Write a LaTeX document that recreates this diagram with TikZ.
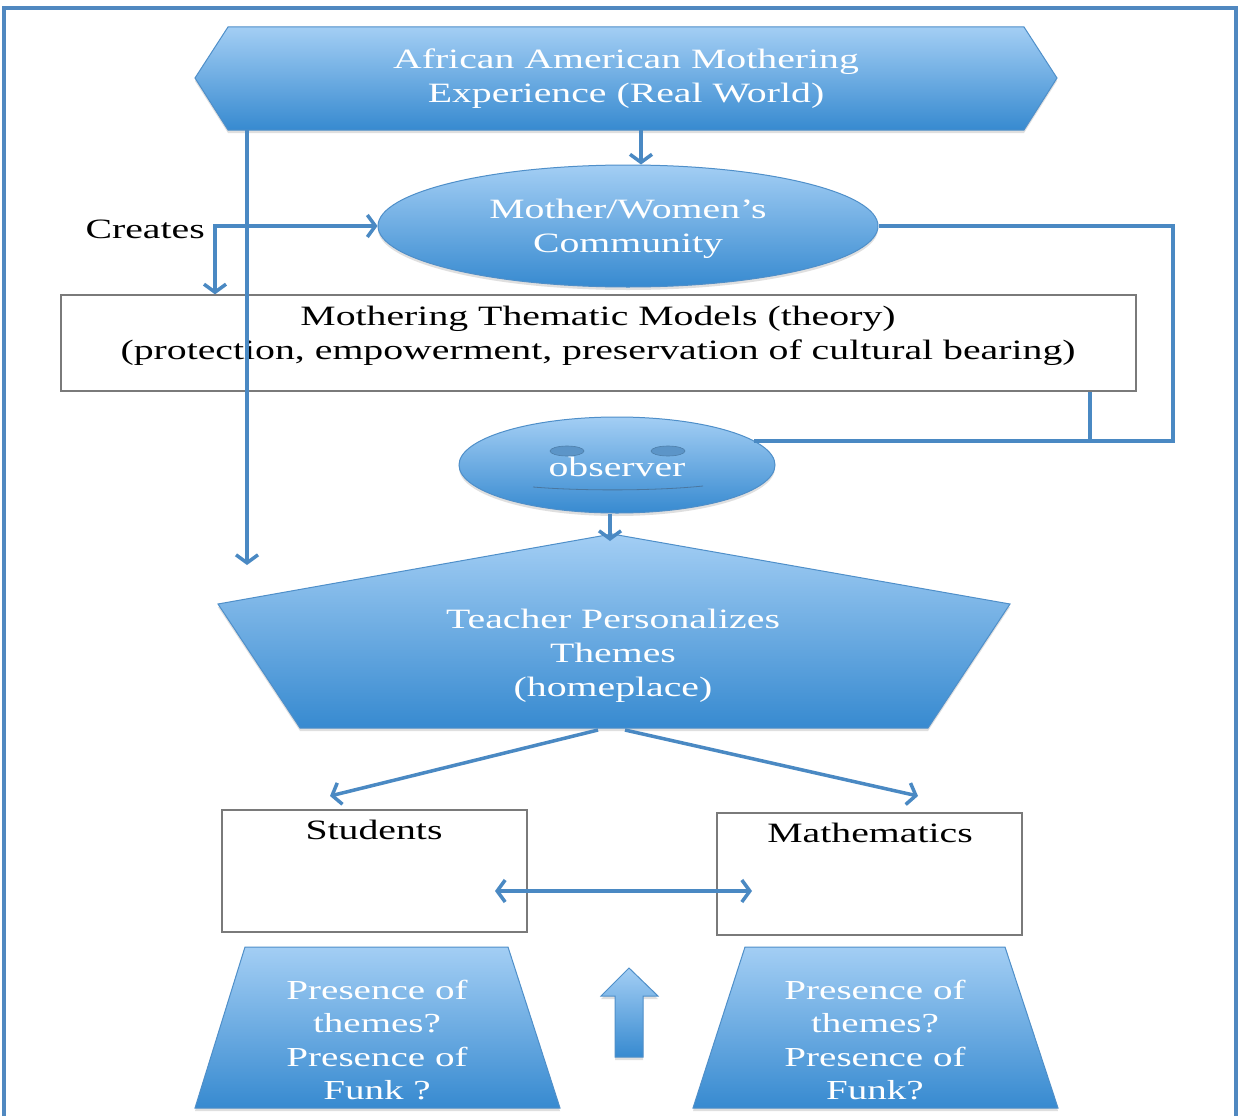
\documentclass[tikz,border=0pt]{standalone}
\usepackage{fontspec}
\setmainfont{Liberation Serif}[FakeStretch=1.42]
\usetikzlibrary{arrows.meta,shapes.geometric,calc,shadows}

\definecolor{lineblue}{HTML}{4A89C3}
\definecolor{frameblue}{HTML}{5088C0}
\definecolor{shadetop}{HTML}{A3CEF4}
\definecolor{shadebot}{HTML}{378AD0}
\definecolor{edgeblue}{HTML}{4F8FC9}
\definecolor{eyeblue}{HTML}{5C95C8}
\definecolor{boxgray}{HTML}{7A7A7A}

\begin{document}
\begin{tikzpicture}[x=1pt,y=-1pt,
  conn/.style={draw=lineblue, line width=3.5pt},
  tipend/.style={-{Straight Barb[length=8pt,width=22pt]}},
  tipboth/.style={{Straight Barb[length=8pt,width=22pt]}-{Straight Barb[length=8pt,width=22pt]}},
  blueshape/.style={draw=edgeblue, line width=1pt, top color=shadetop, bottom color=shadebot,
    drop shadow={opacity=0.25, shadow xshift=0pt, shadow yshift=-3pt}},
  whitetxt/.style={text=white, align=center, inner sep=0pt, font=\fontsize{28}{34}\selectfont},
  lowtxt/.style={text=white, align=center, inner sep=0pt, font=\fontsize{27.5}{33.5}\selectfont},
  blacktxt/.style={text=black, align=center, inner sep=0pt, font=\fontsize{28}{34}\selectfont},
  plainbox/.style={draw=boxgray, line width=1.3pt, fill=white, inner sep=0pt}]

\useasboundingbox (0,0) rectangle (1239,1116);
\fill[white] (0,0) rectangle (1239,1116);

% outer frame, open at the bottom
\draw[frameblue, line width=4pt] (4,1116) -- (4,8) -- (1236,8) -- (1236,1116);

% ---- top banner: real-world experience ----
\path[blueshape] (195,78) -- (228,27) -- (1024,27) -- (1057,78) -- (1024,130) -- (228,130) -- cycle;
\node[whitetxt, minimum width=862pt, minimum height=103pt] (exp) at (626,78.5)
  {African American Mothering\\Experience (Real World)};

% ---- community ellipse ----
\node[ellipse, blueshape, minimum width=500pt, minimum height=122pt, inner sep=0pt] (comm) at (628,226) {};
\node[whitetxt] (commtxt) at (628,229) {Mother/Women’s\\Community};

% ---- thematic models box ----
\node[plainbox, minimum width=1075pt, minimum height=96pt] (themes) at (598.5,343) {};
\node[blacktxt] (themestxt) at (598,336)
  {Mothering Thematic Models (theory)\\(protection, empowerment, preservation of cultural bearing)};

% ---- observer ellipse with a face ----
\node[ellipse, blueshape, minimum width=316pt, minimum height=96pt, inner sep=0pt] (obs) at (617,465) {};
\fill[eyeblue, draw=eyeblue!85!black, line width=0.6pt] (567,451) ellipse [x radius=17pt, y radius=5pt];
\fill[eyeblue, draw=eyeblue!85!black, line width=0.6pt] (668,451) ellipse [x radius=17pt, y radius=5pt];
\draw[eyeblue!80!black, line width=0.8pt] (533,487) .. controls (580,491) and (655,491) .. (703,486);
\node[whitetxt] (obstxt) at (617,467) {observer};

% ---- teacher pentagon ----
\path[blueshape] (612,534) -- (1010,604) -- (928,728) -- (300,728) -- (218,604) -- cycle;
\coordinate (teachtop) at (610,534);
\coordinate (teachbl) at (598,730);
\coordinate (teachbr) at (625,730);
\node[whitetxt] (teach) at (613,656) {Teacher Personalizes\\Themes\\(homeplace)};

% ---- students / mathematics boxes ----
\node[plainbox, minimum width=305pt, minimum height=122pt] (stud) at (374.5,871) {};
\node[blacktxt, anchor=base] (studtxt) at (374,839) {Students};
\node[plainbox, minimum width=305pt, minimum height=122pt] (math) at (869.5,874) {};
\node[blacktxt, anchor=base] (mathtxt) at (870,842) {Mathematics};

% ---- bottom trapezoids ----
\path[blueshape] (245,947) -- (508,947) -- (560,1108) -- (195,1108) -- cycle;
\node[lowtxt] (presL) at (377,1040) {Presence of\\themes?\\Presence of\\Funk ?};
\path[blueshape] (745,947) -- (1005,947) -- (1058,1108) -- (693,1108) -- cycle;
\node[lowtxt] (presR) at (875,1040) {Presence of\\themes?\\Presence of\\Funk?};

% ---- upward block arrow ----
\path[draw=edgeblue, line width=1pt, top color=shadetop, bottom color=shadebot,
      drop shadow={opacity=0.25, shadow xshift=0pt, shadow yshift=-3pt}]
  (629,968) -- (658,996) -- (643,996) -- (643,1057) -- (615,1057) -- (615,996) -- (601,996) -- cycle;

% ---- connectors ----
\coordinate (lvend) at (247,565);
\coordinate (obsR) at ($(obs.center)+(137,-24)$);
\coordinate (studtip) at (330,796);
\coordinate (mathtip) at (918,796);
\coordinate (linkL) at (495,891);
\coordinate (linkR) at (752,891);

\draw[conn, tipend] (exp.south -| 641,0) -- (comm.north -| 641,0);
\draw[conn, tipboth] (themes.north -| 215,0) |- (comm.west);
\draw[conn, tipend] (exp.south -| 247,0) -- (lvend);
\draw[conn] (comm.east) -- (1173,226) -- (1173,441) -- (obsR);
\draw[conn] (themes.south -| 1090,0) -- (1090,441);
\draw[conn, tipend] (obs.south -| teachtop) -- (teachtop |- 0,541);
\draw[conn, tipend] (teachbl) -- (studtip);
\draw[conn, tipend] (teachbr) -- (mathtip);
\draw[conn, tipboth] (linkL) -- (linkR);

% ---- label ----
\node[blacktxt, anchor=east] (creates) at (205,229) {Creates};
\end{tikzpicture}
\end{document}
